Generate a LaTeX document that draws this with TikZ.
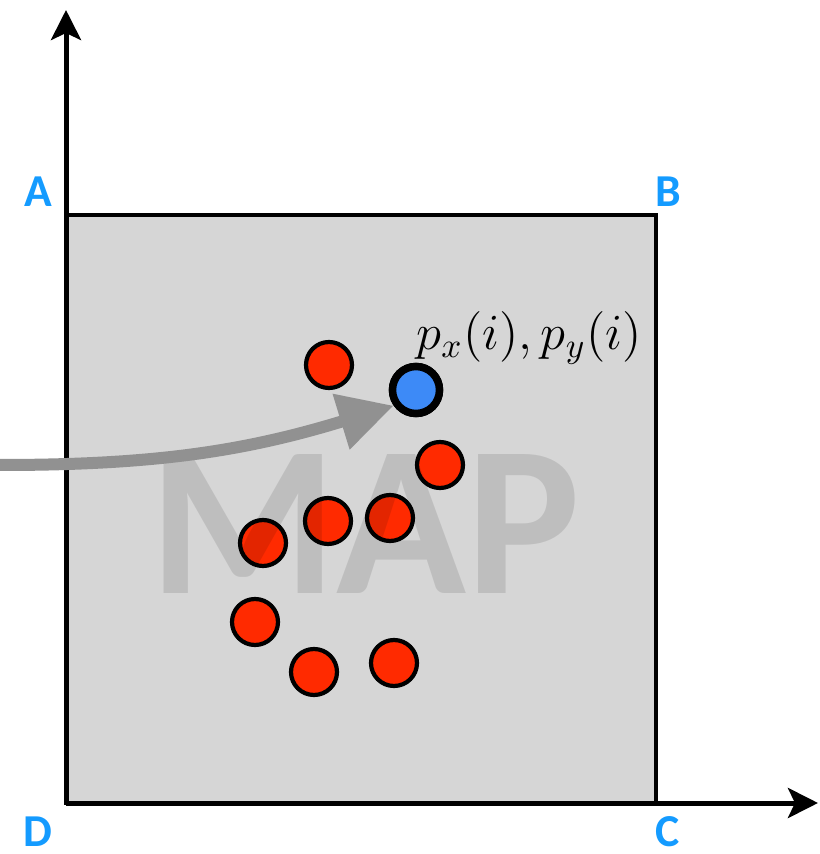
\documentclass[tikz,border=0pt]{standalone}
\usepackage{fontspec}
\setsansfont{Carlito}
\usetikzlibrary{arrows.meta}
\definecolor{mapgray}{HTML}{D6D6D6}
\definecolor{ptred}{HTML}{FF2A00}
\definecolor{ptblue}{HTML}{3D8AF7}
\definecolor{cornerblue}{HTML}{149BFF}
\definecolor{arrowgray}{HTML}{919191}
\tikzset{
  axis/.style={line width=0.05cm, -{Stealth[length=3mm,width=3mm,inset=0.7mm]}},
  corner/.style={text=cornerblue, inner sep=0pt, font=\sffamily\bfseries\fontsize{13}{15}\selectfont},
  redpt/.style={circle, draw, line width=1.2pt, fill=ptred, minimum size=0.46cm, inner sep=0pt},
  bluept/.style={circle, draw, line width=0.075cm, fill=ptblue, minimum size=0.47cm, inner sep=0pt}
}
\begin{document}
\begin{tikzpicture}
   \useasboundingbox (-0.66,-0.51) rectangle (7.54,8.03);
   % Map area
   \draw[fill=mapgray, line width=1pt] (0,0) rectangle (5.90,5.88);
   \draw[axis] (0,0) -- (0,7.93);
   \draw[axis] (0,0) -- (7.52,0);
   % Corners
   \node[corner] (A) at (-0.28,6.11) {A};
   \node[corner] (B) at (6.02,6.11) {B};
   \node[corner] (C) at (6.02,-0.29) {C};
   \node[corner] (D) at (-0.28,-0.29) {D};
   % Points
   \node[redpt] (r1) at (2.63,4.38) {};
   \node[redpt] (r2) at (3.74,3.38) {};
   \node[redpt] (r3) at (2.62,2.82) {};
   \node[redpt] (r4) at (3.24,2.85) {};
   \node[redpt] (r5) at (1.97,2.60) {};
   \node[redpt] (r6) at (1.89,1.81) {};
   \node[redpt] (r7) at (2.48,1.31) {};
   \node[redpt] (r8) at (3.28,1.40) {};
   % Watermark
   \node[text=black, text opacity=0.11, font=\sffamily\bfseries\fontsize{61}{70}\selectfont] (map) at (2.99,2.79) {MAP};
   % Incoming arrow
   \coordinate (in) at (-0.66,3.38);
   \node[bluept] (dot) at (3.50,4.13) {};
   \draw[arrowgray, line width=0.12cm, -{Triangle[length=5.5mm,width=5.5mm]}] (in) to[out=0, in=197] (dot.215);
   \node[bluept] at (dot) {};
   \node[font=\fontsize{14}{16}\selectfont] (lbl) at (4.63,4.65) {$p_x(i), p_y(i)$};
\end{tikzpicture}
\end{document}
